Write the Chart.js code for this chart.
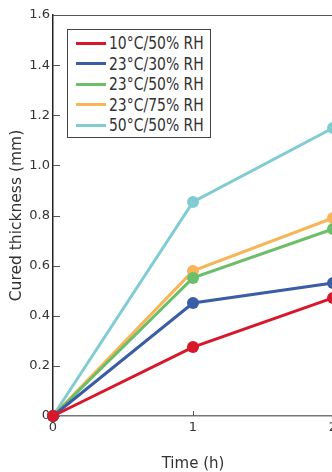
<!DOCTYPE html>
<html>
<head>
<meta charset="utf-8">
<script src="https://cdn.jsdelivr.net/npm/chart.js@4.4.1/dist/chart.umd.min.js"></script>
<style>
  html, body { margin: 0; padding: 0; background: #fff; }
  #wrap { position: relative; width: 332px; height: 472px; overflow: hidden; }
  #box { position: absolute; left: 0; top: 0; width: 345px; height: 472px; }
  #legend {
    position: absolute; left: 67px; top: 29px; width: 144px; height: 109px;
    box-sizing: border-box; border: 1px solid #444; background: #fff; padding-top: 3px;
  }
  .row { height: 20.5px; display: flex; align-items: center; color: #333; white-space: nowrap;
    font: 17px "DejaVu Sans", sans-serif; }
  .sw { width: 30px; height: 3px; margin-left: 8px; margin-right: 3px; flex: none; }
  .txt { display: inline-block; transform: scaleX(0.82); transform-origin: 0 50%; }
</style>
</head>
<body>
<div id="wrap">
  <div id="box"><canvas id="chart"></canvas></div>
  <div id="legend"></div>
</div>
<script>
const FONT = "'DejaVu Sans', sans-serif";

const hours = [0, 1, 2];
const seriesLabels = ["10°C/50% RH", "23°C/30% RH", "23°C/50% RH", "23°C/75% RH", "50°C/50% RH"];
const seriesColors = ["#d7182a", "#3a5da6", "#6cbf6a", "#f8b458", "#80ccd2"];
const rh10_50 = [0, 0.275, 0.471];
const rh23_30 = [0, 0.451, 0.531];
const rh23_50 = [0, 0.551, 0.746];
const rh23_75 = [0, 0.579, 0.790];
const rh50_50 = [0, 0.854, 1.149];
const seriesValues = [rh10_50, rh23_30, rh23_50, rh23_75, rh50_50];

// ticks point inward, plus the top frame line
const innerTicks = {
  id: "innerTicks",
  beforeDatasetsDraw(chart) {
    const { ctx, chartArea: a, scales: { x, y } } = chart;
    ctx.save();
    ctx.lineWidth = 1;
    ctx.strokeStyle = "#555";
    ctx.beginPath();
    ctx.moveTo(a.left, a.top + 0.5);
    ctx.lineTo(chart.width, a.top + 0.5);
    y.ticks.forEach((t, i) => {
      const py = Math.round(y.getPixelForTick(i)) + 0.5;
      ctx.moveTo(a.left, py);
      ctx.lineTo(a.left + 7, py);
    });
    x.ticks.forEach((t, i) => {
      const px = Math.round(x.getPixelForTick(i)) + 0.5;
      ctx.moveTo(px, a.bottom);
      ctx.lineTo(px, a.bottom - 5);
    });
    ctx.stroke();
    ctx.restore();
  },
};

const datasets = seriesValues.map((vals, i) => ({
  label: seriesLabels[i],
  data: vals.map((v, j) => ({ x: hours[j], y: v })),
  borderColor: seriesColors[i],
  backgroundColor: seriesColors[i],
  pointBackgroundColor: seriesColors[i],
  borderWidth: 3,
  pointRadius: 6,
  pointBorderWidth: 0,
  clip: false,
}));

new Chart(document.getElementById("chart"), {
  type: "line",
  data: { datasets },
  options: {
    responsive: true,
    maintainAspectRatio: false,
    animation: false,
    layout: { padding: { top: 15, right: 12, left: 0, bottom: 0 } },
    plugins: { legend: { display: false }, tooltip: { enabled: false } },
    scales: {
      x: {
        type: "linear", min: 0, max: 2,
        grid: { display: false, drawTicks: false },
        border: { display: true, color: "#777", width: 1.5 },
        ticks: { stepSize: 1, padding: 4, color: "#333", font: { family: FONT, size: 13 } },
        title: { display: true, text: "Time (h)", color: "#333", padding: 0,
                 font: { family: FONT, size: 15, lineHeight: 1 } },
        afterFit(s) { s.height = 56; },
      },
      y: {
        min: 0, max: 1.6,
        grid: { display: false, drawTicks: false },
        border: { display: true, color: "#222", width: 1.5 },
        ticks: { stepSize: 0.2, padding: 3, color: "#333", font: { family: FONT, size: 13 },
                 callback: (v) => (v === 0 ? "0" : v.toFixed(1)) },
        title: { display: true, text: "Cured thickness (mm)", color: "#333", padding: { top: 9, bottom: 0 },
                 font: { family: FONT, size: 15.5, lineHeight: 1 } },
        afterFit(s) { s.width = 53; },
      },
    },
  },
  plugins: [innerTicks],
});

const legend = document.getElementById("legend");
seriesLabels.forEach((name, i) => {
  const row = document.createElement("div");
  row.className = "row";
  row.innerHTML = '<span class="sw" style="background:' + seriesColors[i] + '"></span><span class="txt">' + name + "</span>";
  legend.appendChild(row);
});
</script>
</body>
</html>
